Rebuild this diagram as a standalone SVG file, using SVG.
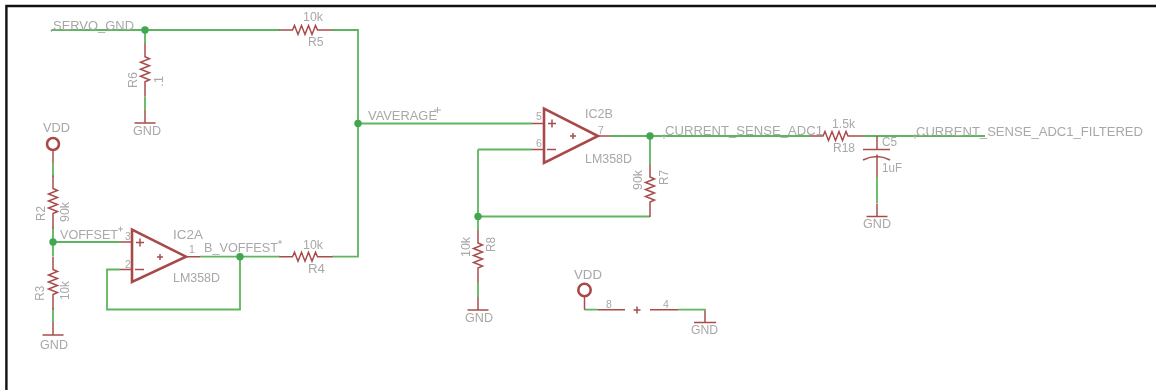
<svg xmlns="http://www.w3.org/2000/svg" xmlns:xlink="http://www.w3.org/1999/xlink" width="1156" height="390" viewBox="0 0 1156 390">
<style>
.w{fill:none;stroke:#5fb55f;stroke-width:1.8}
.j{fill:#3fa650}
.r{fill:none;stroke:#a84c4c;stroke-width:1.5}
.o{fill:none;stroke:#a84a4a;stroke-width:2.6}
.t{font-family:"Liberation Sans",Arial,sans-serif;font-size:13.2px;fill:#a8a8a8}
.s{font-size:10.5px}
.x{fill:none;stroke:#a6a6a6;stroke-width:.9}
</style>
<defs>
<filter id="b" x="-2%" y="-2%" width="104%" height="104%"><feGaussianBlur stdDeviation="0.35"/></filter>
<g id="res"><path class="r" d="M-26.500,0H-13.500L-11.500,-4.500L-8,4.500L-4.500,-4.500L-1,4.500L2.500,-4.500L6,4.500L9.500,-4.500L11.500,0H13.500M13.500,0H26.500"/></g>
<g id="gnd"><path class="r" d="M0,-13V0M-10.500,0H10.500"/></g>
</defs>
<rect width="1156" height="390" fill="#fff"/>
<path d="M1156,6H6.400V390" fill="none" stroke="#111" stroke-width="2.400"/>
<g filter="url(#b)">
<g id="connectors">
<path class="w" d="M52,30H280M332,30H358V256.700H332"/>
<path class="w" d="M145,30V44M145,97V110"/>
<path class="w" d="M358,123.500H532"/>
<path class="w" d="M53,163V177M53,227V256M53,308V322"/>
<path class="w" d="M53,242H120"/>
<path class="w" d="M200,256.700H280"/>
<path class="w" d="M240,256.700V309.500H107V269.500H120"/>
<path class="w" d="M610,136H810M863,136H985"/>
<path class="w" d="M650,136V164M650,216.500H478M478,149.500H532M478,149.500V230M478,283V297"/>
<path class="w" d="M877,177V203"/>
<path class="w" d="M584.500,309.700H598M678,309.700H705V311"/>
<circle class="j" cx="145" cy="30" r="3.700"/>
<circle class="j" cx="358" cy="123.500" r="3.700"/>
<circle class="j" cx="53" cy="242" r="3.700"/>
<circle class="j" cx="240" cy="256.700" r="3.700"/>
<circle class="j" cx="650" cy="136" r="3.700"/>
<circle class="j" cx="478" cy="216.500" r="3.700"/>
</g>
<g id="servo-gnd-label">
<text class="t" x="53" y="29.500" textLength="81" lengthAdjust="spacingAndGlyphs">SERVO_GND</text>
<path class="x" d="M50.500,30.500H53M51.500,29V32"/>
</g>
<g id="R5"><use xlink:href="#res" transform="translate(306,30)"/>
<text class="t" x="303" y="21" textLength="20" lengthAdjust="spacingAndGlyphs">10k</text><text class="t" x="308" y="46" textLength="15.500" lengthAdjust="spacingAndGlyphs">R5</text></g>
<g id="R6"><use xlink:href="#res" transform="translate(145,70.300) rotate(90)"/>
<text class="t" transform="translate(137,88) rotate(-90)" textLength="16" lengthAdjust="spacingAndGlyphs">R6</text>
<text class="t" transform="translate(163,87) rotate(-90)">.1</text></g>
<g id="GND1"><use xlink:href="#gnd" transform="translate(145,123)"/><text class="t" x="133" y="135" textLength="28" lengthAdjust="spacingAndGlyphs">GND</text></g>
<g id="VDD1"><circle class="o" cx="53" cy="144" r="6"/><path class="r" d="M53,150V163"/><text class="t" x="43" y="132" textLength="27" lengthAdjust="spacingAndGlyphs">VDD</text></g>
<g id="R2"><use xlink:href="#res" transform="translate(53,202) rotate(90)"/>
<text class="t" transform="translate(45,221) rotate(-90)" textLength="15" lengthAdjust="spacingAndGlyphs">R2</text>
<text class="t" transform="translate(69,222) rotate(-90)" textLength="20" lengthAdjust="spacingAndGlyphs">90k</text></g>
<g id="R3"><use xlink:href="#res" transform="translate(53,283) rotate(90)"/>
<text class="t" transform="translate(44,300.700) rotate(-90)" textLength="15" lengthAdjust="spacingAndGlyphs">R3</text>
<text class="t" transform="translate(69,300) rotate(-90)" textLength="19" lengthAdjust="spacingAndGlyphs">10k</text></g>
<g id="GND2"><use xlink:href="#gnd" transform="translate(53,335)"/><text class="t" x="40" y="349" textLength="28" lengthAdjust="spacingAndGlyphs">GND</text></g>
<g id="voffset-label"><text class="t" x="60" y="239" textLength="58" lengthAdjust="spacingAndGlyphs">VOFFSET</text><path class="x" d="M118,229H123M120.500,226.500V231.500"/></g>
<g id="IC2A">
<path class="o" d="M132,229.500V282L186,256.700Z"/>
<path class="r" d="M120,242H132M120,269.500H132M186,256.700H200"/>
<path class="r" d="M136,242.500H144M140,238.500V246.500M135,269.500H144M157,257H163M160,254V260"/>
<text class="t s" x="125" y="240">3</text><text class="t s" x="125" y="268">2</text><text class="t s" x="189" y="252.500">1</text>
<text class="t" x="173" y="238.700" textLength="30" lengthAdjust="spacingAndGlyphs">IC2A</text><text class="t" x="173" y="281.700" textLength="47" lengthAdjust="spacingAndGlyphs">LM358D</text>
</g>
<g id="b-voffest-label"><text class="t" x="204" y="251.700" textLength="74" lengthAdjust="spacingAndGlyphs">B_VOFFEST</text><path class="x" d="M278,242H282M280,240V244"/></g>
<g id="R4"><use xlink:href="#res" transform="translate(306,256.700)"/>
<text class="t" x="303" y="249" textLength="20" lengthAdjust="spacingAndGlyphs">10k</text><text class="t" x="308" y="273" textLength="17" lengthAdjust="spacingAndGlyphs">R4</text></g>
<g id="vaverage-label"><text class="t" x="368" y="120" textLength="69" lengthAdjust="spacingAndGlyphs">VAVERAGE</text><path class="x" d="M434,110H441M437.500,107V113"/></g>
<g id="IC2B">
<path class="o" d="M544,108.500V163L598,136Z"/>
<path class="r" d="M532,123.500H544M532,149.500H544M598,136H610"/>
<path class="r" d="M548,123.500H556M552,119.500V127.500M547,149.500H556M570,136H576M573,133V139"/>
<text class="t s" x="536" y="120">5</text><text class="t s" x="536" y="146.700">6</text><text class="t s" x="598" y="134">7</text>
<text class="t" x="585" y="118" textLength="28" lengthAdjust="spacingAndGlyphs">IC2B</text><text class="t" x="585" y="162.700" textLength="47" lengthAdjust="spacingAndGlyphs">LM358D</text>
</g>
<g id="adc1-label"><text class="t" x="665" y="135" textLength="158" lengthAdjust="spacingAndGlyphs">CURRENT_SENSE_ADC1</text><path class="x" d="M662,136.500H665M664,134V139"/></g>
<g id="R18"><use xlink:href="#res" transform="translate(836.500,136)"/>
<text class="t" x="832" y="128" textLength="23" lengthAdjust="spacingAndGlyphs">1.5k</text><text class="t" x="833" y="152" textLength="22" lengthAdjust="spacingAndGlyphs">R18</text></g>
<g id="C5"><path class="r" d="M877,136V149.500M863,149.500H890M877,154.500V177M863,160Q877,153 890,160"/><text class="t" x="882" y="146" textLength="15" lengthAdjust="spacingAndGlyphs">C5</text><text class="t" x="882" y="172" textLength="20" lengthAdjust="spacingAndGlyphs">1uF</text></g>
<g id="GND3"><use xlink:href="#gnd" transform="translate(877,216.500)"/><text class="t" x="863" y="228" textLength="28" lengthAdjust="spacingAndGlyphs">GND</text></g>
<g id="filtered-label"><text class="t" x="916" y="135.700" textLength="227" lengthAdjust="spacingAndGlyphs">CURRENT_SENSE_ADC1_FILTERED</text><path class="x" d="M913.500,136.500H916M915,134V139"/></g>
<g id="R7"><use xlink:href="#res" transform="translate(650,190.500) rotate(90)"/>
<text class="t" transform="translate(641.700,190) rotate(-90)" textLength="20" lengthAdjust="spacingAndGlyphs">90k</text>
<text class="t" transform="translate(668,185) rotate(-90)" textLength="15" lengthAdjust="spacingAndGlyphs">R7</text></g>
<g id="R8"><use xlink:href="#res" transform="translate(478,256.500) rotate(90)"/>
<text class="t" transform="translate(470,257) rotate(-90)" textLength="20" lengthAdjust="spacingAndGlyphs">10k</text>
<text class="t" transform="translate(495,252) rotate(-90)" textLength="15" lengthAdjust="spacingAndGlyphs">R8</text></g>
<g id="GND4"><use xlink:href="#gnd" transform="translate(478,310)"/><text class="t" x="465" y="321.700" textLength="28" lengthAdjust="spacingAndGlyphs">GND</text></g>
<g id="VDD2"><circle class="o" cx="584.500" cy="290" r="6.200"/><path class="r" d="M584.500,296V309.700"/><text class="t" x="574" y="279" textLength="28" lengthAdjust="spacingAndGlyphs">VDD</text></g>
<g id="IC2P"><path class="r" d="M598,309.700H625M650,309.700H678M633.500,310H640.500M637,306.500V313.500"/>
<text class="t s" x="606" y="307.700">8</text><text class="t s" x="663" y="307.700">4</text></g>
<g id="GND5"><path class="r" d="M705,311V322.500M694,322.500H716"/><text class="t" x="691" y="334" textLength="27" lengthAdjust="spacingAndGlyphs">GND</text></g>
</g>
</svg>
